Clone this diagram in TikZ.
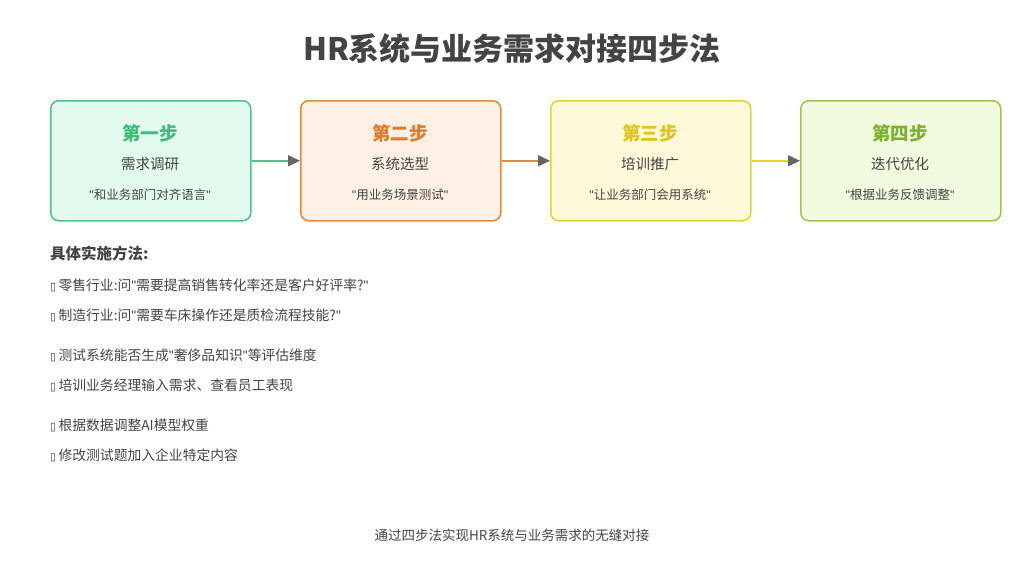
\documentclass[tikz,border=0pt]{standalone}
\usepackage{fontspec}
\setmainfont{Noto Sans CJK SC}
\newfontfamily\dejavu{DejaVu Sans}
\newfontfamily\latinf{Liberation Sans}
\newcommand\dq{{\latinf\symbol{34}}}
\usetikzlibrary{arrows.meta}
\definecolor{gB}{HTML}{4CC38A}\definecolor{gF}{HTML}{E3FBEF}\definecolor{gT}{HTML}{3DBE78}
\definecolor{oB}{HTML}{E08A3C}\definecolor{oF}{HTML}{FEF0E4}\definecolor{oT}{HTML}{E07B2B}
\definecolor{yB}{HTML}{E6D22E}\definecolor{yF}{HTML}{FEF9D9}\definecolor{yT}{HTML}{E3C317}
\definecolor{lB}{HTML}{9CC64A}\definecolor{lF}{HTML}{F2FADF}\definecolor{lT}{HTML}{7CB32B}
\definecolor{txt}{HTML}{444444}
\begin{document}
\begin{tikzpicture}[x=1pt,y=-1pt,
  stepbox/.style={draw,line width=1.5pt,rounded corners=8pt,minimum width=200pt,minimum height=120pt,anchor=north west},
  st/.style={font=\fontsize{18.5}{20}\selectfont\bfseries},
  sub/.style={font=\fontsize{14.5}{16}\selectfont,text=txt},
  qt/.style={font=\fontsize{12.5}{14}\selectfont,text=txt},
  item/.style={anchor=west,font=\fontsize{13.8}{15}\selectfont,text=txt,inner sep=0pt},
  conn/.style={line width=1.5pt,-{Triangle[length=12pt,width=11pt,color=gray!80!black]}}]
\useasboundingbox (0,0) rectangle (1024,576);
\node[font=\fontsize{31}{33}\selectfont\bfseries,text=txt] (title) at (512,49) {HR系统与业务需求对接四步法};
\foreach \n/\x/\c/\t/\s/\q in {a/50/g/第一步/需求调研/和业务部门对齐语言,b/300/o/第二步/系统选型/用业务场景测试,c/550/y/第三步/培训推广/让业务部门会用系统,d/800/l/第四步/迭代优化/根据业务反馈调整}{
  \node[stepbox,draw=\c B,fill=\c F] (\n) at (\x,100) {};
  \node[st,text=\c T] (\n t) at (\x+100,133) {\t};
  \node[sub] (\n s) at (\x+100,164) {\s};
  \node[qt] (\n q) at (\x+100,195) {\dq\q\dq};
}
\draw[conn,gB] (a.east) -- (b.west);
\draw[conn,oB] (b.east) -- (c.west);
\draw[conn,yB] (c.east) -- (d.west);
\node[item,font=\fontsize{15.5}{17}\selectfont\bfseries] (h) at (50,254) {具体实施方法:};
\foreach \n/\y/\t in {i1/285/零售行业:问\dq 需要提高销售转化率还是客户好评率?\dq,i2/315/制造行业:问\dq 需要车床操作还是质检流程技能?\dq,i3/355/测试系统能否生成\dq 奢侈品知识\dq 等评估维度,i4/385/培训业务经理输入需求、查看员工表现,i5/425/根据数据调整AI模型权重,i6/455/修改测试题加入企业特定内容}
  \node[item] (\n) at (50,\y) {{\dejavu\fontsize{11}{12}\selectfont ▯}\,\t};
\node[font=\fontsize{13.5}{15}\selectfont,text=txt] (foot) at (512,535) {通过四步法实现HR系统与业务需求的无缝对接};
\end{tikzpicture}
\end{document}
